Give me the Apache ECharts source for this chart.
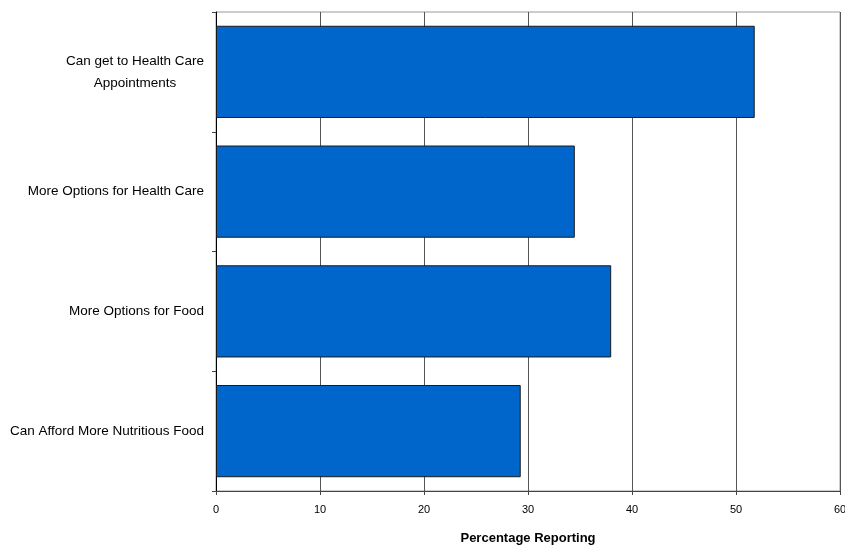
<!DOCTYPE html>
<html>
<head>
<meta charset="utf-8">
<script src="https://cdn.jsdelivr.net/npm/echarts@6/dist/echarts.min.js"></script>
<style>
html,body{margin:0;padding:0;background:#fff;}
#chart{width:845px;height:546px;}
</style>
</head>
<body>
<div id="chart"></div>
<script>
const categories = [
  "Can get to Health Care\nAppointments",
  "More Options for Health Care",
  "More Options for Food",
  "Can Afford More Nutritious Food"
];
const values = [51.8, 34.5, 38.0, 29.3];
const xTicks = [0, 10, 20, 30, 40, 50, 60];
const axisTitle = "Percentage Reporting";

const FONT = "'Liberation Sans', Arial, sans-serif";

const chart = echarts.init(document.getElementById('chart'), null, {renderer: 'canvas'});
chart.setOption({
  animation: false,
  backgroundColor: '#ffffff',
  grid: {
    left: 216, right: 5, top: 12, bottom: 55,
    containLabel: false,
    outerBoundsMode: 'none',
    show: true, borderColor: '#9a9a9a', borderWidth: 1, backgroundColor: 'transparent'
  },
  xAxis: {
    type: 'value',
    min: xTicks[0], max: xTicks[xTicks.length - 1], interval: 10,
    name: axisTitle,
    nameLocation: 'middle',
    nameGap: 41,
    nameTextStyle: {fontFamily: FONT, fontWeight: 'bold', fontSize: 13, color: '#000'},
    axisLine: {show: true, lineStyle: {color: '#444', width: 1}},
    axisTick: {show: true, length: 4, lineStyle: {color: '#444'}},
    axisLabel: {fontFamily: FONT, fontSize: 11, color: '#000', margin: 13},
    splitLine: {show: true, lineStyle: {color: '#555', width: 1}}
  },
  yAxis: {
    type: 'category',
    data: categories,
    inverse: true,
    axisLine: {show: true, lineStyle: {color: '#000', width: 1}},
    axisTick: {show: true, length: 4, lineStyle: {color: '#444'}},
    axisLabel: {
      fontFamily: FONT, fontSize: 13.5, color: '#000', margin: 12,
      formatter: function (v) {
        return v.split('\n').map(s => '{c|' + s + '}').join('\n');
      },
      rich: {c: {fontFamily: FONT, fontSize: 13.5, color: '#000', align: 'center', lineHeight: 22}}
    },
    splitLine: {show: false}
  },
  series: [{
    type: 'bar',
    data: values,
    barCategoryGap: '23%',
    itemStyle: {color: '#0066CC', borderColor: '#1a1a1a', borderWidth: 1}
  }]
});
</script>
</body>
</html>
